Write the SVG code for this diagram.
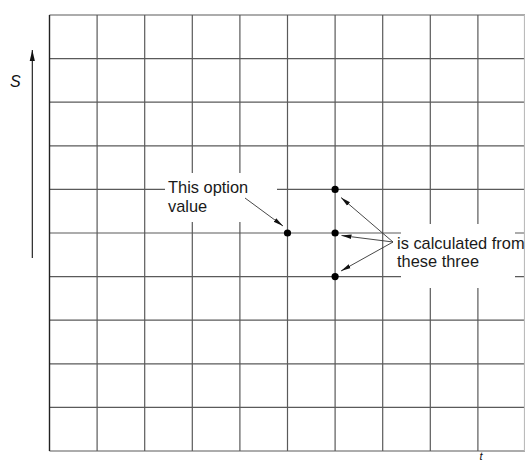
<svg xmlns="http://www.w3.org/2000/svg" width="525" height="463" viewBox="0 0 525 463">
<style>
.grid line{stroke:#5a5a5a;stroke-width:1.2}
.lbl{font-family:"Liberation Sans",Arial,sans-serif;font-size:16.4px;fill:#1a1a1a}
.ax{font-family:"Liberation Sans",Arial,sans-serif;font-size:16px;font-style:italic;fill:#111}
.bg{fill:#fff}
.dot{fill:#000}
.conn line{stroke:#333;stroke-width:0.9;marker-end:url(#ah)}
</style>
<defs>
<marker id="ah" viewBox="0 0 10 6" refX="10" refY="3" markerWidth="10" markerHeight="6" markerUnits="userSpaceOnUse" orient="auto">
<path d="M0,0.8 L10,3 L0,5.2 Z" fill="#111"/>
</marker>
<marker id="axh" viewBox="0 0 6 12" refX="3" refY="0" markerWidth="6" markerHeight="12" markerUnits="userSpaceOnUse" orient="0">
<path d="M3,0 L5.6,11 L0.4,11 Z" fill="#111"/>
</marker>
</defs>
<rect width="525" height="463" fill="#fff"/>
<g class="grid" id="grid">
<line x1="49.5" y1="15" x2="525" y2="15"/>
<line x1="49.5" y1="58.6" x2="525" y2="58.6"/>
<line x1="49.5" y1="102.2" x2="525" y2="102.2"/>
<line x1="49.5" y1="145.8" x2="525" y2="145.8"/>
<line x1="49.5" y1="189.4" x2="525" y2="189.4"/>
<line x1="49.5" y1="233" x2="525" y2="233"/>
<line x1="49.5" y1="276.6" x2="525" y2="276.6"/>
<line x1="49.5" y1="320.2" x2="525" y2="320.2"/>
<line x1="49.5" y1="363.8" x2="525" y2="363.8"/>
<line x1="49.5" y1="407.4" x2="525" y2="407.4"/>
<line x1="49.5" y1="451" x2="525" y2="451"/>
<line x1="97.1" y1="15" x2="97.1" y2="451"/>
<line x1="144.7" y1="15" x2="144.7" y2="451"/>
<line x1="192.3" y1="15" x2="192.3" y2="451"/>
<line x1="239.9" y1="15" x2="239.9" y2="451"/>
<line x1="287.5" y1="15" x2="287.5" y2="451"/>
<line x1="335.1" y1="15" x2="335.1" y2="451"/>
<line x1="382.7" y1="15" x2="382.7" y2="451"/>
<line x1="430.3" y1="15" x2="430.3" y2="451"/>
<line x1="477.9" y1="15" x2="477.9" y2="451"/>
<line x1="524.5" y1="15" x2="524.5" y2="451" style="stroke:#bbb"/>
<line x1="49.5" y1="15" x2="49.5" y2="451" style="stroke:#222;stroke-width:1.4"/>
</g>
<g id="axis-s">
<line x1="32.3" y1="258" x2="32.3" y2="50" stroke="#111" stroke-width="1.1" marker-end="url(#axh)"/>
<text class="ax" x="10" y="87">S</text>
</g>
<g id="axis-t">
<text class="ax" x="479.5" y="460" style="font-size:11px">t</text>
</g>
<g id="label-option">
<rect class="bg" x="165" y="173" width="112" height="49"/>
<text class="lbl" x="168" y="193">This option</text>
<text class="lbl" x="168" y="212">value</text>
</g>
<g id="label-three">
<rect class="bg" x="401" y="224" width="114" height="64"/>
<text class="lbl" x="397" y="248.5">is calculated from</text>
<text class="lbl" x="397" y="267">these three</text>
</g>
<g id="node-option"><circle class="dot" cx="287.5" cy="233" r="3.6"/></g>
<g id="node-up"><circle class="dot" cx="335.1" cy="189.4" r="3.6"/></g>
<g id="node-mid"><circle class="dot" cx="335.1" cy="233" r="3.6"/></g>
<g id="node-down"><circle class="dot" cx="335.1" cy="276.6" r="3.6"/></g>
<g class="conn" id="connectors">
<line x1="245" y1="198" x2="283" y2="226"/>
<line x1="393" y1="242" x2="341" y2="197.5"/>
<line x1="393" y1="242" x2="341.5" y2="235.5"/>
<line x1="393" y1="242" x2="341" y2="271"/>
</g>
</svg>
